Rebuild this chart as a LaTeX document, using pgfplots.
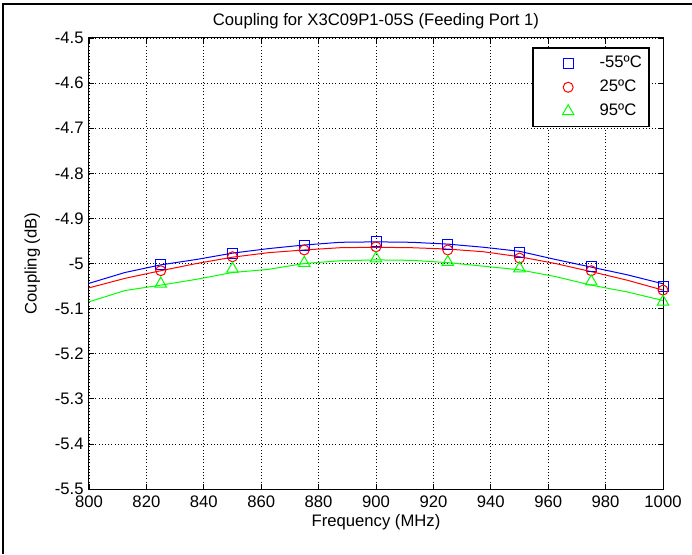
\documentclass[border=0pt]{standalone}
\usepackage{fontspec}
\setmainfont{Liberation Sans}
\usepackage{pgfplots}
\pgfplotsset{compat=1.18}
\definecolor{mblue}{RGB}{0,0,255}
\definecolor{mred}{RGB}{255,0,0}
\definecolor{mgreen}{RGB}{0,255,0}
\begin{document}
\begin{tikzpicture}
\useasboundingbox (0,0) rectangle (519pt,415.5pt);
\draw[line width=1.6pt] (2.3pt,0) -- (2.3pt,412.5pt) -- (519pt,412.5pt);
\begin{axis}[
  name=ax,
  at={(66.75pt,48.75pt)}, anchor=south west,
  scale only axis, width=430.5pt, height=338.25pt,
  xmin=800, xmax=1000, ymin=-5.5, ymax=-4.5,
  xtick={800,820,840,860,880,900,920,940,960,980,1000},
  ytick={-5.5,-5.4,-5.3,-5.2,-5.1,-5,-4.9,-4.8,-4.7,-4.6,-4.5},
  yticklabels={-5.5,-5.4,-5.3,-5.2,-5.1,-5,-4.9,-4.8,-4.7,-4.6,-4.5},
  /pgf/number format/assume math mode=true,
  /pgf/number format/1000 sep={},
  ticklabel style={font=\fontsize{12.5}{14}\selectfont},
  xticklabel style={yshift=-1.5pt},
  yticklabel style={xshift=-0.5pt},
  tick align=inside, major tick length=4pt,
  tick style={black, line width=0.6pt},
  axis line style={black, line width=0.75pt},
  grid=major,
  major grid style={black, line width=0.6pt, dash pattern=on 0.8pt off 1.6pt},
  xlabel={Frequency (MHz)},
  xlabel style={at={(axis description cs:0.5,0)}, anchor=center, yshift=-25pt, font=\fontsize{12.5}{14}\selectfont},
  ylabel={Coupling (dB)},
  ylabel style={at={(axis description cs:-0.0987,0.5)}, anchor=center, font=\fontsize{12.5}{14}\selectfont},
  legend style={at={(1,1)}, anchor=north east, xshift=-9.75pt, yshift=-7pt,
    draw=black, line width=1.2pt, inner xsep=4.5pt, inner ysep=4pt,
    row sep=3.6pt, font=\fontsize{12.5}{14}\selectfont,
    nodes={inner sep=1pt, text height=9.5pt, text depth=3pt},
    /tikz/every odd column/.append style={column sep=14pt}},
  legend cell align=left,
  legend image code/.code={\draw[#1] plot coordinates {(0pt,0pt)};
    \path (-21.5pt,0pt) (8pt,0pt);},
]
% lines
\addplot[mblue, line width=0.75pt, forget plot] coordinates {
(800,-5.044) (812.5,-5.020) (825,-5.003) (837.5,-4.991) (850,-4.977) (862.5,-4.967)
(875,-4.959) (887.5,-4.953) (900,-4.952) (912.5,-4.953) (925,-4.957) (937.5,-4.964)
(950,-4.973) (962.5,-4.991) (975,-5.008) (987.5,-5.025) (1000,-5.045)};
\addplot[mred, line width=0.75pt, forget plot] coordinates {
(800,-5.054) (812.5,-5.033) (825,-5.016) (837.5,-5.000) (850,-4.986) (862.5,-4.976)
(875,-4.970) (887.5,-4.965) (900,-4.964) (912.5,-4.965) (925,-4.968) (937.5,-4.974)
(950,-4.985) (962.5,-5.000) (975,-5.018) (987.5,-5.037) (1000,-5.059)};
\addplot[mgreen, line width=0.75pt, forget plot] coordinates {
(800,-5.085) (812.5,-5.060) (825,-5.048) (837.5,-5.035) (850,-5.020) (862.5,-5.013)
(875,-5.000) (887.5,-4.994) (900,-4.992) (912.5,-4.993) (925,-4.998) (937.5,-5.006)
(950,-5.014) (962.5,-5.029) (975,-5.048) (987.5,-5.063) (1000,-5.082)};
% markers
\addplot[only marks, color=mblue, mark=square, mark size=3.75pt, mark options={draw=mblue, line width=0.75pt}] coordinates {
(825,-5.003) (850,-4.977) (875,-4.959) (900,-4.952) (925,-4.957) (950,-4.975) (975,-5.007) (1000,-5.050)};
\addlegendentry{-55ºC}
\addplot[only marks, color=mred, mark=o, mark size=3.75pt, mark options={draw=mred, line width=0.75pt}] coordinates {
(825,-5.016) (850,-4.985) (875,-4.970) (900,-4.963) (925,-4.970) (950,-4.988) (975,-5.016) (1000,-5.059)};
\addlegendentry{25ºC}
\addplot[only marks, color=mgreen, mark=triangle, mark size=5pt, mark options={draw=mgreen, line width=0.75pt}] coordinates {
(825,-5.045) (850,-5.012) (875,-4.999) (900,-4.989) (925,-4.997) (950,-5.011) (975,-5.040) (1000,-5.085)};
\addlegendentry{95ºC}
\end{axis}
\node[anchor=base, font=\fontsize{12.5}{14}\selectfont, yshift=9pt] at (ax.north) {Coupling for X3C09P1-05S (Feeding Port 1)};
\end{tikzpicture}
\end{document}
